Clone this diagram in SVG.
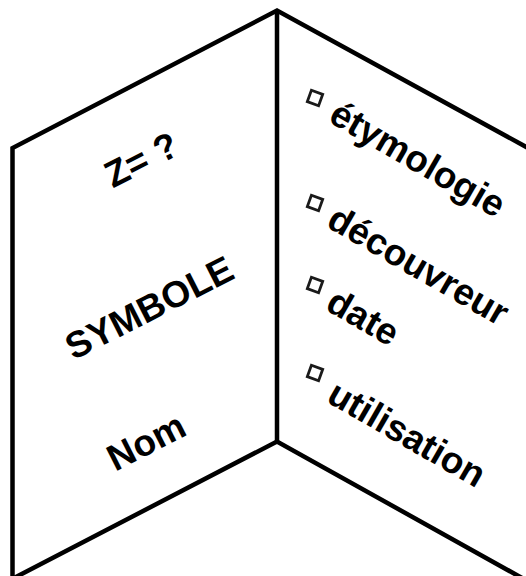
<svg xmlns="http://www.w3.org/2000/svg" width="526" height="576" viewBox="0 0 526 576">
<style>
.edge{fill:none;stroke:#000;stroke-width:4.5;stroke-linejoin:miter;stroke-linecap:butt}
.t{font-family:"Liberation Sans",Arial,sans-serif;font-weight:bold;font-size:37px;fill:#000}
.box{fill:none;stroke:#1a1a1a;stroke-width:2.8}
</style>
<rect width="526" height="576" fill="#fff"/>
<g id="card">
<path class="edge" d="M12.5,580 L12.5,148 L277,10.5 L528,148"/>
<path class="edge" d="M277,10.5 L277,442"/>
<path class="edge" d="M14,578 L277,441.5 L522,578"/>
</g>
<g id="left">
<text class="t" text-anchor="middle" transform="translate(147,171) rotate(-27)">Z= ?</text>
<text class="t" text-anchor="middle" transform="translate(155,319) rotate(-27)">SYMBOLE</text>
<text class="t" text-anchor="middle" transform="translate(152,453) rotate(-27)">Nom</text>
</g>
<g id="right">
<g transform="translate(315,98) rotate(20)"><rect class="box" x="-6" y="-6" width="12" height="12"/></g>
<text class="t" transform="translate(327,121) rotate(30)">étymologie</text>
<g transform="translate(315,203) rotate(20)"><rect class="box" x="-6" y="-6" width="12" height="12"/></g>
<text class="t" transform="translate(325,226) rotate(30)">découvreur</text>
<g transform="translate(315,285) rotate(20)"><rect class="box" x="-6" y="-6" width="12" height="12"/></g>
<text class="t" transform="translate(324,309) rotate(30)">date</text>
<g transform="translate(315,373) rotate(20)"><rect class="box" x="-6" y="-6" width="12" height="12"/></g>
<text class="t" transform="translate(325,401) rotate(30)">utilisation</text>
</g>
</svg>
